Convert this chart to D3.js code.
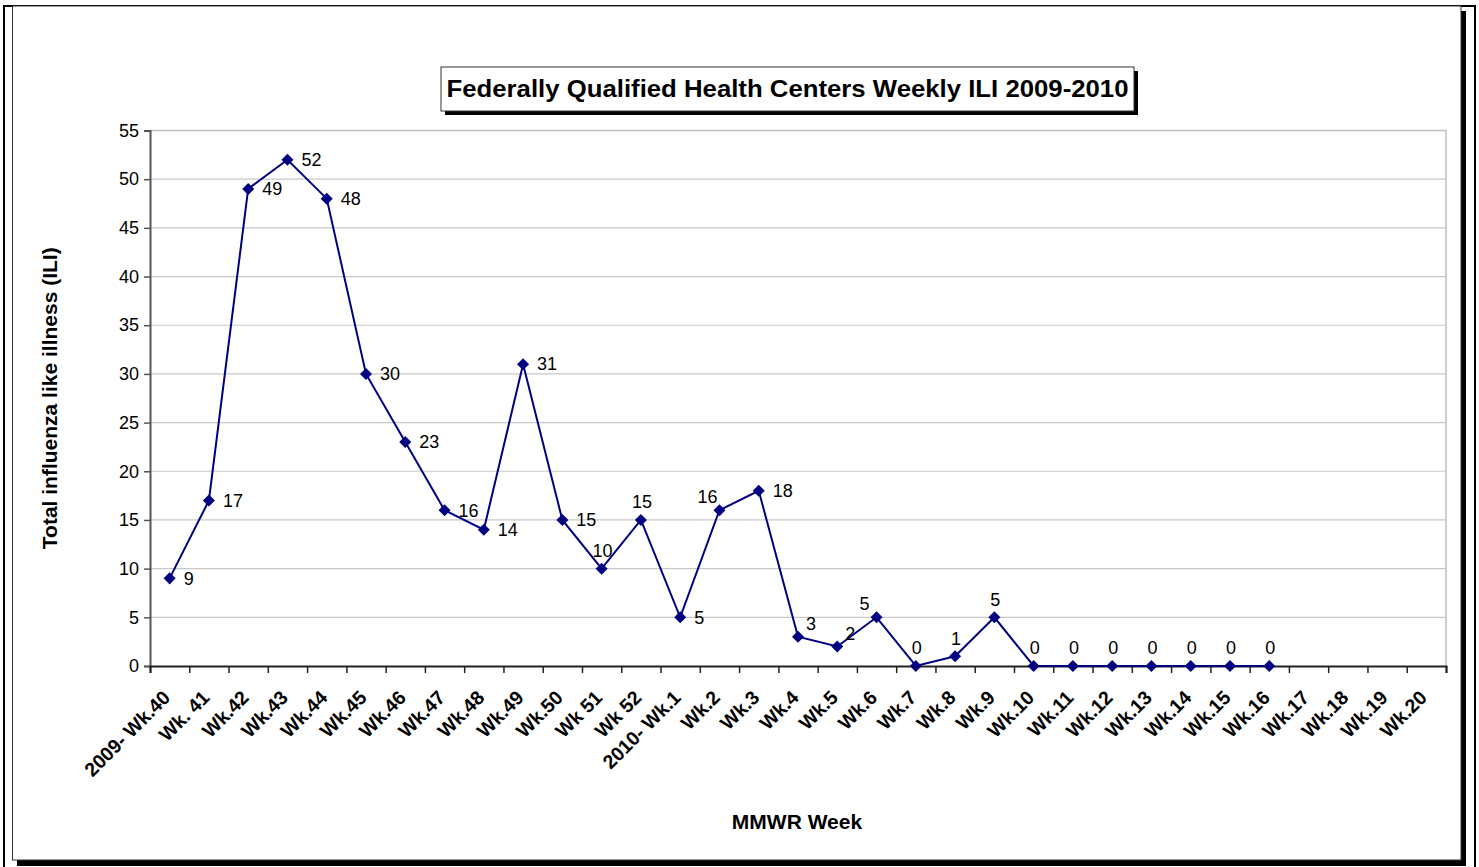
<!DOCTYPE html>
<html>
<head>
<meta charset="utf-8">
<script src="https://cdn.jsdelivr.net/npm/d3@7"></script>
<style>
  body { margin: 0; background: #fff; }
  text { font-family: Arial, "Liberation Sans", sans-serif; }
</style>
</head>
<body>
<svg id="chart"></svg>
<script>
// categories (MMWR weeks) and weekly ILI counts
var weeks = ['2009- Wk.40', 'Wk. 41', 'Wk.42', 'Wk.43', 'Wk.44', 'Wk.45', 'Wk.46', 'Wk.47', 'Wk.48', 'Wk.49',
  'Wk.50', 'Wk 51', 'Wk 52', '2010- Wk.1', 'Wk.2', 'Wk.3', 'Wk.4', 'Wk.5', 'Wk.6', 'Wk.7', 'Wk.8', 'Wk.9',
  'Wk.10', 'Wk.11', 'Wk.12', 'Wk.13', 'Wk.14', 'Wk.15', 'Wk.16', 'Wk.17', 'Wk.18', 'Wk.19', 'Wk.20'];
var iliCounts = [9, 17, 49, 52, 48, 30, 23, 16, 14, 31, 15, 10, 15, 5, 16, 18, 3, 2, 5, 0, 1, 5, 0, 0, 0, 0, 0, 0, 0];
var yTicks = [0, 5, 10, 15, 20, 25, 30, 35, 40, 45, 50, 55];
// where each data label sits relative to its point
var labelSide = ['r', 'r', 'r', 'r', 'r', 'r', 'r', 'r', 'r', 'r', 'r', 'a', 'a', 'r', 'al', 'r', 'ar', 'ar', 'al',
  'a', 'a', 'a', 'a', 'a', 'a', 'a', 'a', 'a', 'a'];

var width = 1479;
var height = 867;
var plot = { left: 150, right: 1446, top: 130.5, bottom: 666 };

var svg = d3.select('#chart')
  .attr('width', width)
  .attr('height', height);

// outer frame + chart box with shadow
svg.append('path')
  .attr('d', 'M4,' + (height + 2) + ' V6 H1475 V' + (height + 2))
  .attr('fill', 'none')
  .attr('stroke', '#000')
  .attr('stroke-width', 2);
svg.append('rect')
  .attr('x', 17).attr('y', 11)
  .attr('width', 1449).attr('height', 855)
  .attr('fill', '#000');
svg.append('rect')
  .attr('x', 12.5).attr('y', 6)
  .attr('width', 1448.5).attr('height', 854)
  .attr('fill', '#fff')
  .attr('stroke', '#333')
  .attr('stroke-width', 1);

var xScale = d3.scaleBand()
  .domain(weeks)
  .range([plot.left, plot.right])
  .padding(0);

// boundary scale for the tick marks between categories
var xEdge = d3.scaleLinear()
  .domain([0, weeks.length])
  .range([plot.left, plot.right]);

var yScale = d3.scaleLinear()
  .domain([0, 55])
  .range([plot.bottom, plot.top]);

// plot area border (top/right)
svg.append('path')
  .attr('d', 'M' + plot.left + ',' + plot.top + ' H' + plot.right + ' V' + plot.bottom)
  .attr('fill', 'none')
  .attr('stroke', '#c0c0c0')
  .attr('stroke-width', 1.5);

// gridlines
svg.append('g')
  .selectAll('line')
  .data(yTicks.filter(d => d > 0 && d < 55))
  .enter()
  .append('line')
    .attr('x1', plot.left)
    .attr('x2', plot.right)
    .attr('y1', d => yScale(d))
    .attr('y2', d => yScale(d))
    .attr('stroke', '#c8c8c8')
    .attr('stroke-width', 1.2);

// y axis
var yAxis = d3.axisLeft(yScale)
  .tickValues(yTicks)
  .tickSize(6)
  .tickPadding(5)
  .tickFormat(d3.format('d'));

var gy = svg.append('g')
  .attr('transform', 'translate(' + plot.left + ',0)')
  .call(yAxis);
gy.select('.domain').attr('stroke', '#555').attr('stroke-width', 2);
gy.selectAll('.tick line').attr('stroke', '#555').attr('stroke-width', 1.5);
gy.selectAll('.tick text')
  .style('font-size', '18px')
  .attr('fill', '#000')
  .style('font-family', 'Arial, "Liberation Sans", sans-serif');

// x axis tick marks
var xAxis = d3.axisBottom(xEdge)
  .tickValues(d3.range(weeks.length + 1))
  .tickSize(7)
  .tickFormat('');

var gx = svg.append('g')
  .attr('transform', 'translate(0,' + plot.bottom + ')')
  .call(xAxis);
gx.select('.domain').attr('stroke', '#222').attr('stroke-width', 2);
gx.selectAll('.tick line').attr('stroke', '#222').attr('stroke-width', 1.5);

// x axis category labels
svg.append('g')
  .selectAll('text')
  .data(weeks)
  .enter()
  .append('text')
    .attr('transform', d => 'translate(' + (xScale(d) + xScale.bandwidth() / 2 - 3) + ',694) rotate(-45)')
    .attr('text-anchor', 'end')
    .attr('dy', '0.35em')
    .style('font-size', '19.5px')
    .style('font-weight', 'bold')
    .text(d => d);

// series
var points = iliCounts.map((v, i) => ({ week: weeks[i], value: v, side: labelSide[i] }));

var line = d3.line()
  .x(d => xScale(d.week) + xScale.bandwidth() / 2)
  .y(d => yScale(d.value));

svg.append('path')
  .datum(points)
  .attr('d', line)
  .attr('fill', 'none')
  .attr('stroke', '#000080')
  .attr('stroke-width', 2);

svg.append('g')
  .selectAll('path')
  .data(points)
  .enter()
  .append('path')
    .attr('d', d3.symbol().type(d3.symbolDiamond2).size(92))
    .attr('transform', d => 'translate(' + (xScale(d.week) + xScale.bandwidth() / 2) + ',' + yScale(d.value) + ')')
    .attr('fill', '#000080');

// data labels
var offsets = { r: [14, 0, 'start'], a: [1, -18, 'middle'], al: [-12, -14, 'middle'], ar: [13, -13, 'middle'] };
svg.append('g')
  .selectAll('text')
  .data(points)
  .enter()
  .append('text')
    .attr('x', d => xScale(d.week) + xScale.bandwidth() / 2 + offsets[d.side][0])
    .attr('y', d => yScale(d.value) + offsets[d.side][1])
    .attr('dy', '0.35em')
    .attr('text-anchor', d => offsets[d.side][2])
    .style('font-size', '18px')
    .text(d => d.value);

// title box
svg.append('rect')
  .attr('x', 445).attr('y', 71)
  .attr('width', 693).attr('height', 44)
  .attr('fill', '#000');
svg.append('rect')
  .attr('x', 441).attr('y', 67)
  .attr('width', 693).attr('height', 44)
  .attr('fill', '#fff')
  .attr('stroke', '#333')
  .attr('stroke-width', 1);
svg.append('text')
  .attr('x', 787.5)
  .attr('y', 97)
  .attr('text-anchor', 'middle')
  .attr('textLength', 682)
  .attr('lengthAdjust', 'spacingAndGlyphs')
  .style('font-size', '24px')
  .style('font-weight', 'bold')
  .text('Federally Qualified Health Centers Weekly ILI 2009-2010');

// axis titles
svg.append('text')
  .attr('transform', 'translate(57,' + ((plot.top + plot.bottom) / 2) + ') rotate(-90)')
  .attr('text-anchor', 'middle')
  .style('font-size', '21px')
  .style('font-weight', 'bold')
  .text('Total influenza like illness (ILI)');

svg.append('text')
  .attr('x', 797)
  .attr('y', 829)
  .attr('text-anchor', 'middle')
  .style('font-size', '21px')
  .style('font-weight', 'bold')
  .text('MMWR Week');
</script>
</body>
</html>
